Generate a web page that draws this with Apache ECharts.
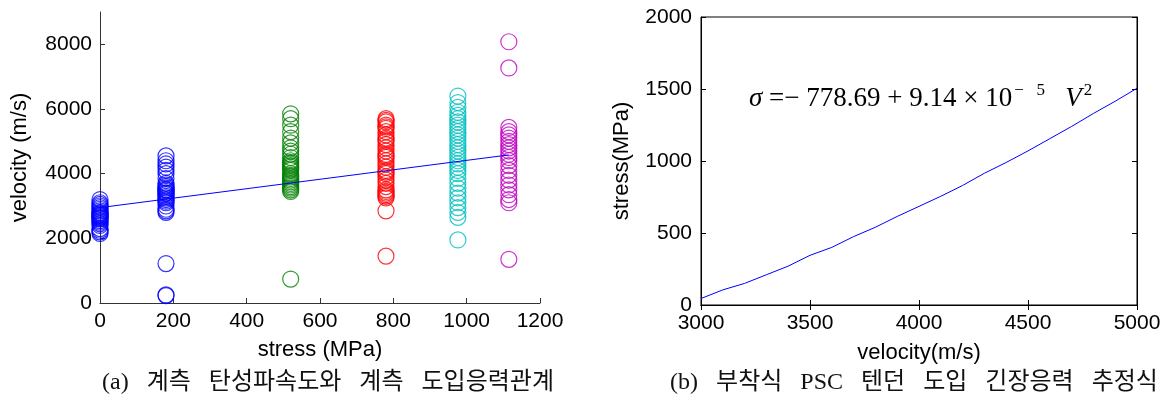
<!DOCTYPE html>
<html>
<head>
<meta charset="utf-8">
<script src="https://cdn.jsdelivr.net/npm/echarts@6.0.0/dist/echarts.min.js"></script>
<style>
  html, body { margin: 0; padding: 0; background: #fff; }
  #chart { width: 1167px; height: 401px; }
</style>
</head>
<body>
<div id="chart"></div>
<script>
// (a) measured velocity per stress step
const stressSteps = [0, 180, 520, 780, 976, 1115];
const velAt0 = [2150, 2200, 2250, 2300, 2400, 2450, 2500, 2550, 2600, 2620, 2650, 2680, 2700, 2720, 2750, 2780, 2800, 2850, 2900, 2950, 3000, 3050, 3100, 3200];
const velAt180 = [230, 250, 1220, 2800, 2850, 2900, 3000, 3100, 3150, 3200, 3250, 3300, 3350, 3400, 3400, 3450, 3500, 3500, 3550, 3600, 3650, 3700, 3850, 4000, 4100, 4200, 4300, 4400, 4550];
const velAt520 = [740, 3450, 3500, 3550, 3600, 3650, 3700, 3750, 3800, 3850, 3900, 3950, 4000, 4100, 4150, 4200, 4250, 4300, 4350, 4400, 4500, 4600, 4700, 4800, 4950, 5100, 5300, 5500, 5700, 5850];
const velAt780 = [1450, 2850, 3250, 3300, 3350, 3400, 3450, 3500, 3600, 3700, 3800, 3900, 4000, 4050, 4100, 4200, 4300, 4400, 4500, 4550, 4600, 4700, 4800, 4900, 5000, 5050, 5100, 5200, 5300, 5400, 5450, 5500, 5600, 5650, 5700];
const velAt976 = [1950, 2650, 2800, 2950, 3100, 3250, 3400, 3550, 3700, 3850, 4000, 4100, 4200, 4300, 4400, 4500, 4600, 4700, 4800, 4900, 5000, 5100, 5200, 5300, 5400, 5500, 5600, 5700, 5800, 5900, 6050, 6200, 6400];
const velAt1115 = [1350, 3100, 3200, 3350, 3500, 3650, 3800, 3950, 4100, 4250, 4400, 4500, 4600, 4700, 4800, 4900, 5000, 5100, 5200, 5300, 5430, 7270, 8080];
const groupColors = ['#0000ff', '#0000ff', '#008000', '#ff0000', '#00bfbf', '#bf00bf'];
const fitStress = [0, 1115];
const fitVel = [2950, 4580];

// (b) estimated tendon stress vs velocity
const velGrid = [3000, 3100, 3200, 3300, 3400, 3500, 3600, 3700, 3800, 3900, 4000, 4100, 4200, 4300, 4400, 4500, 4600, 4700, 4800, 4900, 5000];
const stressEst = [45, 105, 150, 210, 270, 345, 400, 475, 540, 615, 685, 755, 830, 915, 990, 1070, 1155, 1240, 1330, 1415, 1505];

const captionA = '(a)   계측   탄성파속도와   계측   도입응력관계';
const captionB = '(b)   부착식   PSC   텐던   도입   긴장응력   추정식';

const velGroups = [velAt0, velAt180, velAt520, velAt780, velAt976, velAt1115];

let chart = echarts.init(document.getElementById('chart'));

const tickFont = { fontFamily: 'Liberation Sans, Arial, sans-serif', fontSize: 21, color: '#000' };
const nameFont = { fontFamily: 'Liberation Sans, Arial, sans-serif', fontSize: 22, color: '#000' };
const plain = function (v) { return String(v); };

let scatterSeries = velGroups.map(function (vals, i) {
  return {
    type: 'scatter',
    xAxisIndex: 0,
    yAxisIndex: 0,
    symbol: 'circle',
    symbolSize: 16,
    itemStyle: { color: 'transparent', borderColor: groupColors[i], borderWidth: 1.2 },
    data: vals.map(function (v) { return [stressSteps[i], v]; }),
    silent: true
  };
});

let option = {
  animation: false,
  backgroundColor: '#fff',
  grid: [
    { left: 100, top: 12, width: 440, height: 291 },
    { left: 701, top: 17, width: 436, height: 288, show: true, borderColor: '#000', borderWidth: 1 }
  ],
  xAxis: [
    {
      gridIndex: 0, type: 'value', min: 0, max: 1200, interval: 200,
      name: 'stress (MPa)', nameLocation: 'middle', nameGap: 36,
      nameTextStyle: nameFont,
      axisLine: { lineStyle: { color: '#333' } },
      axisTick: { inside: true, length: 5, lineStyle: { color: '#333' } },
      axisLabel: Object.assign({ margin: 8, formatter: plain }, tickFont),
      splitLine: { show: false }
    },
    {
      gridIndex: 1, type: 'value', min: 3000, max: 5000, interval: 500,
      name: 'velocity(m/s)', nameLocation: 'middle', nameGap: 37,
      nameTextStyle: nameFont,
      axisLine: { lineStyle: { color: '#000' } },
      axisTick: { inside: true, length: 5, lineStyle: { color: '#000' } },
      axisLabel: Object.assign({ margin: 8, formatter: plain }, tickFont),
      splitLine: { show: false }
    },
    {
      gridIndex: 1, type: 'value', position: 'top', min: 3000, max: 5000, interval: 500,
      axisLine: { lineStyle: { color: '#000' } },
      axisTick: { inside: true, length: 5, lineStyle: { color: '#000' } },
      axisLabel: { show: false },
      splitLine: { show: false }
    }
  ],
  yAxis: [
    {
      gridIndex: 0, type: 'value', min: 0, max: 9000, interval: 2000,
      name: 'velocity (m/s)', nameLocation: 'middle', nameGap: 69,
      nameTextStyle: nameFont,
      axisLine: { show: true, lineStyle: { color: '#333' } },
      axisTick: { show: true, inside: true, length: 5, lineStyle: { color: '#333' }, customValues: [0, 2000, 4000, 6000, 8000] },
      axisLabel: Object.assign({ margin: 8, formatter: plain, customValues: [0, 2000, 4000, 6000, 8000] }, tickFont),
      splitLine: { show: false }
    },
    {
      gridIndex: 1, type: 'value', min: 0, max: 2000, interval: 500,
      name: 'stress(MPa)', nameLocation: 'middle', nameGap: 68,
      nameTextStyle: nameFont,
      axisLine: { show: true, lineStyle: { color: '#000' } },
      axisTick: { show: true, inside: true, length: 5, lineStyle: { color: '#000' } },
      axisLabel: Object.assign({ margin: 9, formatter: plain }, tickFont),
      splitLine: { show: false }
    },
    {
      gridIndex: 1, type: 'value', position: 'right', min: 0, max: 2000, interval: 500,
      axisLine: { show: true, lineStyle: { color: '#000' } },
      axisTick: { show: true, inside: true, length: 5, lineStyle: { color: '#000' } },
      axisLabel: { show: false },
      splitLine: { show: false }
    }
  ],
  series: scatterSeries.concat([
    {
      type: 'line',
      xAxisIndex: 0, yAxisIndex: 0,
      data: fitStress.map(function (s, i) { return [s, fitVel[i]]; }),
      showSymbol: false,
      lineStyle: { color: '#0000ff', width: 1 },
      silent: true
    },
    {
      type: 'line',
      xAxisIndex: 1, yAxisIndex: 1,
      data: velGrid.map(function (v, i) { return [v, stressEst[i]]; }),
      showSymbol: false,
      lineStyle: { color: '#0000ff', width: 1 },
      silent: true
    }
  ]),
  graphic: [
    {
      type: 'text', left: 749, top: 82,
      style: {
        text: '{i|σ}{n| =− 778.69 + 9.14 × 10}{s|−   5}{n|   }{i|V}{s|2}',
        rich: {
          i: { fontFamily: 'Liberation Serif, serif', fontStyle: 'italic', fontSize: 27, lineHeight: 34, verticalAlign: 'bottom' },
          n: { fontFamily: 'Liberation Serif, serif', fontSize: 27, lineHeight: 34, verticalAlign: 'bottom' },
          s: { fontFamily: 'Liberation Serif, serif', fontSize: 17, lineHeight: 20, verticalAlign: 'bottom', padding: [0, 0, 13, 2] }
        },
        fill: '#000'
      }
    },
    {
      type: 'text', x: 328, y: 383,
      style: {
        text: captionA, align: 'center', verticalAlign: 'middle',
        fontFamily: 'Liberation Serif, Noto Sans CJK KR, serif', fontSize: 24, fill: '#111'
      }
    },
    {
      type: 'text', x: 914, y: 383,
      style: {
        text: captionB, align: 'center', verticalAlign: 'middle',
        fontFamily: 'Liberation Serif, Noto Sans CJK KR, serif', fontSize: 24, fill: '#111'
      }
    }
  ]
};

chart.setOption(option);
</script>
</body>
</html>
